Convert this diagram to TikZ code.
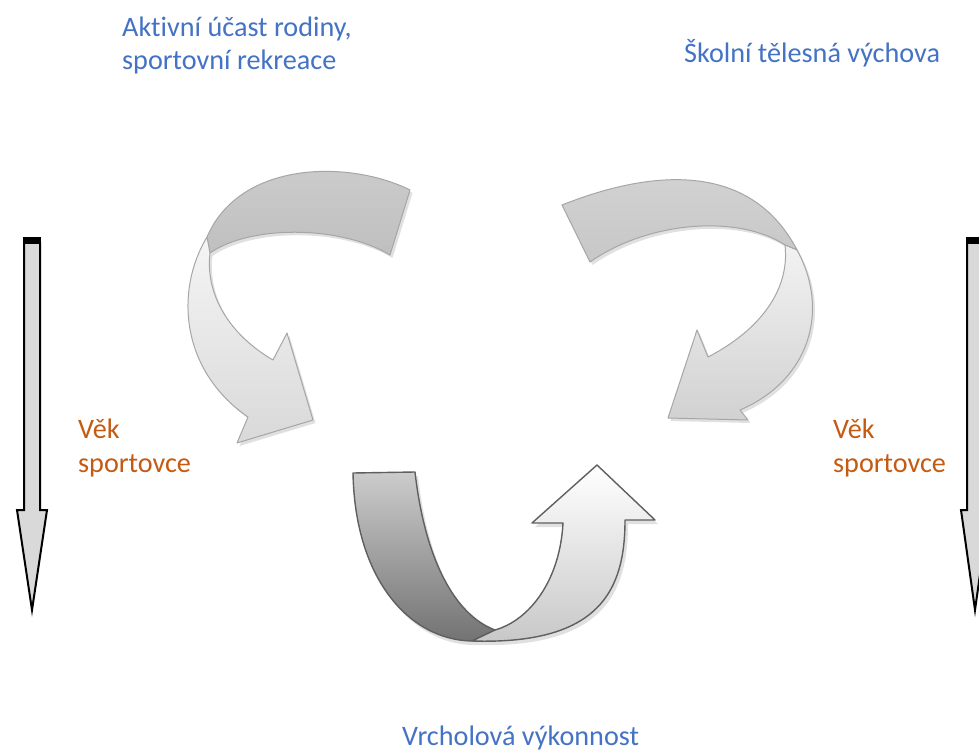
\documentclass[tikz,border=0pt]{standalone}
\usepackage{fontspec}
\setmainfont{Carlito}[Ligatures=NoCommon]
\definecolor{blueT}{HTML}{4472C4}
\definecolor{orangeT}{HTML}{C55A11}
\definecolor{lineA}{HTML}{A6A6A6}
\definecolor{lineB}{HTML}{5F5F5F}
\begin{document}
\begin{tikzpicture}[x=1pt,y=-1pt,
  lbl/.style={inner sep=0pt,anchor=base west,font=\fontsize{28.2}{33}\selectfont},
  bluelbl/.style={lbl,text=blueT},
  orangelbl/.style={lbl,text=orangeT},
  ribbonA/.style={draw=lineA,line width=1pt,line join=round},
  ribbonB/.style={draw=lineB,line width=1.4pt,line join=round},
  shadowfill/.style={fill=black,opacity=0.12},
  sidearrow/.style={fill=black!15,draw=black,line width=2pt,line join=miter},
  sidecap/.style={fill=black}]
\useasboundingbox (0,0) rectangle (979,751);
\clip (0,0) rectangle (979,751);
\fill[white] (0,0) rectangle (979,751);

% ---------- side arrows ----------
\path[sidearrow] (24,243) -- (24,510) -- (17,510) -- (32,610) -- (47,510) -- (40,510) -- (40,243) -- cycle;
\fill[sidecap] (23,237) rectangle (41,244);
\path[sidearrow] (967,243) -- (967,510) -- (961,510) -- (975,610) -- (989,510) -- (983,510) -- (983,243) -- cycle;
\fill[sidecap] (966,237) rectangle (984,244);

% ---------- arrow 1 (top left) ----------
\begin{scope}[shift={(2.5,3)}]
\fill[shadowfill] (410,190) .. controls (350,160) and (240,160) .. (207,237)
  .. controls (175,290) and (180,370) .. (248,417) -- (237,443) -- (313,420) -- (287,333) -- (273,360)
  .. controls (230,335) and (205,295) .. (210,253)
  .. controls (250,225) and (340,225) .. (390,255) -- cycle;
\end{scope}
\path[ribbonA,top color=black!20,bottom color=black!25]
  (410,190) .. controls (350,160) and (240,160) .. (207,237) -- (210,253)
  .. controls (250,225) and (340,225) .. (390,255) -- cycle;
\path[ribbonA,top color=black!4,bottom color=black!15]
  (207,237) .. controls (175,290) and (180,370) .. (248,417) -- (237,443) -- (313,420) -- (287,333) -- (273,360)
  .. controls (230,335) and (205,295) .. (210,253) -- cycle;

% ---------- arrow 2 (top right) ----------
\begin{scope}[shift={(2.5,3)}]
\fill[shadowfill] (562,205) .. controls (650,170) and (750,160) .. (797,250)
  .. controls (830,310) and (810,380) .. (740,410) -- (748,420) -- (668,418) -- (697,330) -- (708,357)
  .. controls (760,330) and (790,290) .. (785,245)
  .. controls (740,215) and (650,220) .. (590,262) -- cycle;
\end{scope}
\path[ribbonA,top color=black!17,bottom color=black!22]
  (562,205) .. controls (650,170) and (750,160) .. (797,250) -- (785,245)
  .. controls (740,215) and (650,220) .. (590,262) -- cycle;
\path[ribbonA,top color=black!5,bottom color=black!18]
  (797,250) .. controls (830,310) and (810,380) .. (740,410) -- (748,420) -- (668,418) -- (697,330) -- (708,357)
  .. controls (760,330) and (790,290) .. (785,245) -- cycle;

% ---------- arrow 3 (bottom U) ----------
\begin{scope}[shift={(3,4)}]
\fill[shadowfill] (353,473) -- (415,472) .. controls (425,560) and (455,615) .. (495,630)
  .. controls (530,620) and (560,580) .. (563,523) -- (532,523) -- (597,465) -- (655,520) -- (625,520)
  .. controls (625,590) and (600,645) .. (470,641) .. controls (410,640) and (355,580) .. (353,473) -- cycle;
\end{scope}
\path[ribbonB,top color=black!20,bottom color=black!55]
  (353,473) -- (415,472) .. controls (425,560) and (455,615) .. (495,630) -- (472,641)
  .. controls (410,640) and (355,580) .. (353,473) -- cycle;
\path[ribbonB,top color=white,bottom color=black!22]
  (472,641) .. controls (600,645) and (625,590) .. (625,520) -- (655,520) -- (597,465) -- (532,523) -- (563,523)
  .. controls (560,580) and (530,620) .. (495,630) -- cycle;

% ---------- labels ----------
\node[bluelbl] (aktiv1) at (122,37) {Aktivní účast rodiny,};
\node[bluelbl] (aktiv2) at (122,70) {sportovní rekreace};
\node[bluelbl] (skolni) at (684,63) {Školní tělesná výchova};
\node[orangelbl] (vekL1) at (78,438) {Věk};
\node[orangelbl] (vekL2) at (78,472) {sportovce};
\node[orangelbl] (vekR1) at (833,438) {Věk};
\node[orangelbl] (vekR2) at (833,472) {sportovce};
\node[bluelbl] (vrchol) at (402,745) {Vrcholová výkonnost};
\end{tikzpicture}
\end{document}
